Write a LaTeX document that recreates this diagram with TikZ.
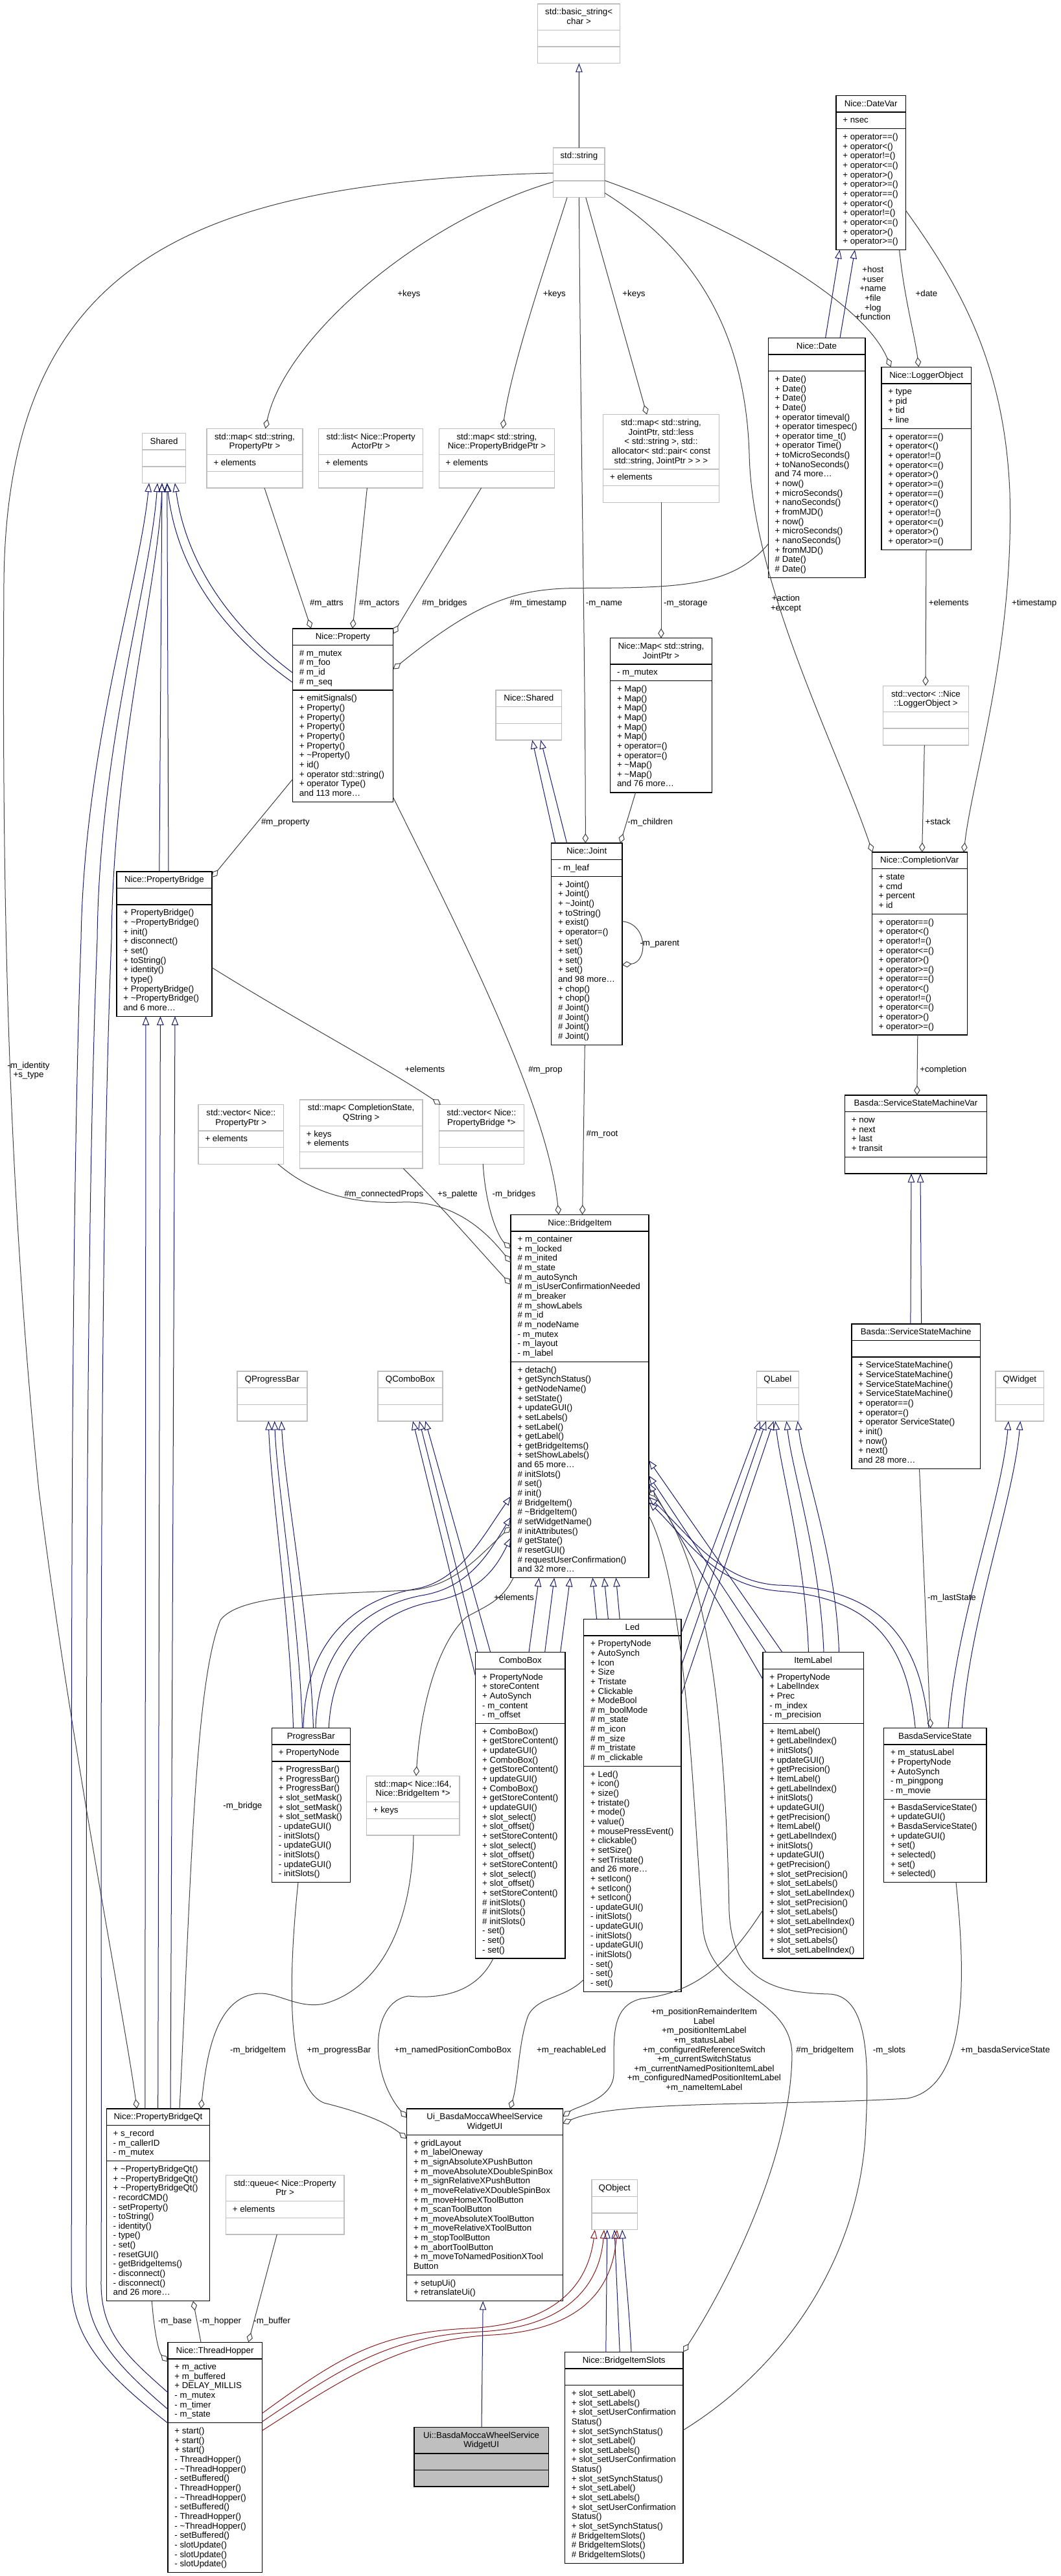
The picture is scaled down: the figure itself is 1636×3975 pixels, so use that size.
\documentclass[tikz,border=0pt]{standalone}
\usepackage{fontspec}
\setmainfont{Liberation Sans}
\usetikzlibrary{arrows.meta}
\definecolor{inhc}{HTML}{191970}
\definecolor{aggc}{HTML}{404040}
\definecolor{prvc}{HTML}{8B1A1A}
\definecolor{gbord}{HTML}{BFBFBF}
\definecolor{focusfill}{HTML}{BFBFBF}
\tikzset{
  boxb/.style={draw=black, line width=1.4pt, fill=white, outer sep=0pt, inner sep=0pt},
  boxb sep/.style={draw=black, line width=1.4pt},
  boxg/.style={draw=gbord, line width=1.4pt, fill=white, outer sep=0pt, inner sep=0pt},
  boxg sep/.style={draw=gbord, line width=1.4pt},
  boxf/.style={draw=black, line width=1.4pt, fill=focusfill, outer sep=0pt, inner sep=0pt},
  boxf sep/.style={draw=black, line width=1.4pt},
  inh/.style={draw=inhc, line width=1pt, -{Triangle[open, length=13.7pt, width=10.5pt]}},
  prv/.style={draw=prvc, line width=1pt, -{Triangle[open, length=13.7pt, width=10.5pt]}},
  agg/.style={draw=aggc, line width=1pt, -{Diamond[open, length=15pt, width=9.5pt]}},
  txt/.style={font=\fontsize{13.3}{14.65}\selectfont, inner sep=0pt, outer sep=0pt},
}
\newcommand\umlbox[8][boxb]{%
  \pgfmathsetmacro\hA{11+14.65*max(#6,1)}%
  \pgfmathsetmacro\hB{11+14.65*max(#7,1)}%
  \pgfmathsetmacro\hC{11+14.65*max(#8,1)}%
  \pgfmathsetmacro\hAB{\hA+\hB}%
  \pgfmathsetmacro\hT{\hA+\hB+\hC}%
  \node[#1, minimum width=#5, minimum height=\hT, anchor=north west] (#2) at (#3,#4) {};
  \draw[#1 sep] ([yshift=-\hA]#2.north west) -- ([yshift=-\hA]#2.north east);
  \draw[#1 sep] ([yshift=-\hAB]#2.north west) -- ([yshift=-\hAB]#2.north east);
  \expandafter\xdef\csname off@#2@a\endcsname{\hA}%
  \expandafter\xdef\csname off@#2@o\endcsname{\hAB}%
}
\newcommand\bhead[2]{%
  \foreach \tx [count=\ii] in {#2} {%
    \node[txt, anchor=base] (#1-h\ii) at ([yshift={-16.8-14.65*(\ii-1)}]#1.north) {\tx};}}
\newcommand\bsec[3]{%
  \edef\offs{\csname off@#1@#2\endcsname}%
  \foreach \tx [count=\ii] in {#3} {%
    \node[txt, anchor=base west] (#1-#2\ii) at ([xshift=10.5, yshift={-\offs-16.8-14.65*(\ii-1)}]#1.north west) {\tx};}}
\newcommand\elabel[4]{%
  \foreach \tx [count=\ii] in {#4} {%
    \node[txt, anchor=base] (#1-\ii) at (#2, {#3+4.8+14.65*(\ii-1)}) {\tx};}}
\begin{document}
\begin{tikzpicture}[x=1pt,y=-1pt]
\useasboundingbox (0,0) rectangle (1636,3975);
\fill[white] (0,0) rectangle (1636,3975);

% ---------------- boxes ----------------
\umlbox[boxg]{bstr}{829.6}{6}{127.1}{2}{0}{0}
\bhead{bstr}{std::basic\_string<,char >}
\umlbox[boxg]{sstr}{853.7}{227.8}{79.4}{1}{0}{0}
\bhead{sstr}{std::string}

\umlbox{datevar}{1289.8}{147.4}{107.7}{1}{1}{12}
\bhead{datevar}{Nice::DateVar}
\bsec{datevar}{a}{+ nsec}
\bsec{datevar}{o}{+ operator==(),+ operator<(),+ operator!=(),+ operator<=(),+ operator>(),+ operator>=(),+ operator==(),+ operator<(),+ operator!=(),+ operator<=(),+ operator>(),+ operator>=()}

\umlbox{date}{1185.2}{521.3}{149.6}{1}{0}{21}
\bhead{date}{Nice::Date}
\bsec{date}{o}{+ Date(),+ Date(),+ Date(),+ Date(),+ operator timeval(),+ operator timespec(),+ operator time\_t(),+ operator Time(),+ toMicroSeconds(),+ toNanoSeconds(),and 74 more\ldots,+ now(),+ microSeconds(),+ nanoSeconds(),+ fromMJD(),+ now(),+ microSeconds(),+ nanoSeconds(),+ fromMJD(),\# Date(),\# Date()}

\umlbox{logger}{1359.9}{566.2}{138.6}{1}{4}{12}
\bhead{logger}{Nice::LoggerObject}
\bsec{logger}{a}{+ type,+ pid,+ tid,+ line}
\bsec{logger}{o}{+ operator==(),+ operator<(),+ operator!=(),+ operator<=(),+ operator>(),+ operator>=(),+ operator==(),+ operator<(),+ operator!=(),+ operator<=(),+ operator>(),+ operator>=()}

\umlbox[boxg]{mapprop}{319}{661.3}{148}{2}{1}{0}
\bhead{mapprop}{{std::map< std::string,},PropertyPtr >}
\bsec{mapprop}{a}{+ elements}
\umlbox[boxg]{listactor}{491.6}{661.3}{161.1}{2}{1}{0}
\bhead{listactor}{std::list< Nice::Property,ActorPtr >}
\bsec{listactor}{a}{+ elements}
\umlbox[boxg]{mapbridge}{677.2}{661.3}{178.5}{2}{1}{0}
\bhead{mapbridge}{{std::map< std::string,},Nice::PropertyBridgePtr >}
\bsec{mapbridge}{a}{+ elements}
\umlbox[boxg]{mapjoint}{930.5}{639.7}{178.9}{5}{1}{0}
\bhead{mapjoint}{{std::map< std::string,},{JointPtr, std::less},{< std::string >, std::},allocator< std::pair< const,{std::string, JointPtr > > >}}
\bsec{mapjoint}{a}{+ elements}
\umlbox[boxg]{shared}{219.6}{668.5}{67}{1}{0}{0}
\bhead{shared}{Shared}

\umlbox{property}{451.3}{969.8}{155.3}{1}{4}{11}
\bhead{property}{Nice::Property}
\bsec{property}{a}{\# m\_mutex,\# m\_foo,\# m\_id,\# m\_seq}
\bsec{property}{o}{+ emitSignals(),+ Property(),+ Property(),+ Property(),+ Property(),+ Property(),+ \textasciitilde Property(),+ id(),+ operator std::string(),+ operator Type(),and 113 more\ldots}

\umlbox[boxg]{nshared}{765}{1065}{101.7}{1}{0}{0}
\bhead{nshared}{Nice::Shared}

\umlbox{map}{941.5}{984.7}{156.9}{2}{1}{11}
\bhead{map}{{Nice::Map< std::string,},JointPtr >}
\bsec{map}{a}{- m\_mutex}
\bsec{map}{o}{+ Map(),+ Map(),+ Map(),+ Map(),+ Map(),+ Map(),+ operator=(),+ operator=(),+ \textasciitilde Map(),+ \textasciitilde Map(),and 76 more\ldots}

\umlbox[boxg]{vlogger}{1362.5}{1058.2}{131.8}{2}{0}{0}
\bhead{vlogger}{std::vector< ::Nice,::LoggerObject >}

\umlbox{joint}{850.5}{1301}{109.3}{1}{1}{17}
\bhead{joint}{Nice::Joint}
\bsec{joint}{a}{- m\_leaf}
\bsec{joint}{o}{+ Joint(),+ Joint(),+ \textasciitilde Joint(),+ toString(),+ exist(),+ operator=(),+ set(),+ set(),+ set(),+ set(),and 98 more\ldots,+ chop(),+ chop(),\# Joint(),\# Joint(),\# Joint(),\# Joint()}

\umlbox{compl}{1345.2}{1315}{147}{1}{4}{12}
\bhead{compl}{Nice::CompletionVar}
\bsec{compl}{a}{+ state,+ cmd,+ percent,+ id}
\bsec{compl}{o}{+ operator==(),+ operator<(),+ operator!=(),+ operator<=(),+ operator>(),+ operator>=(),+ operator==(),+ operator<(),+ operator!=(),+ operator<=(),+ operator>(),+ operator>=()}

\umlbox{pbridge}{179.9}{1344.8}{147}{1}{0}{11}
\bhead{pbridge}{Nice::PropertyBridge}
\bsec{pbridge}{o}{+ PropertyBridge(),+ \textasciitilde PropertyBridge(),+ init(),+ disconnect(),+ set(),+ toString(),+ identity(),+ type(),+ PropertyBridge(),+ \textasciitilde PropertyBridge(),and 6 more\ldots}

\umlbox[boxg]{vprop}{306}{1704.6}{131.7}{2}{1}{0}
\bhead{vprop}{std::vector< Nice::,PropertyPtr >}
\bsec{vprop}{a}{+ elements}
\umlbox[boxg]{mapcs}{462.3}{1696.9}{189.8}{2}{2}{0}
\bhead{mapcs}{{std::map< CompletionState,},QString >}
\bsec{mapcs}{a}{+ keys,+ elements}
\umlbox[boxg]{vpb}{677.2}{1704.6}{131.3}{2}{0}{0}
\bhead{vpb}{std::vector< Nice::,PropertyBridge *>}

\umlbox{ssmvar}{1303.4}{1690}{219.1}{1}{4}{0}
\bhead{ssmvar}{Basda::ServiceStateMachineVar}
\bsec{ssmvar}{a}{+ now,+ next,+ last,+ transit}

\umlbox{bitem}{788.1}{1874.2}{213}{1}{13}{22}
\bhead{bitem}{Nice::BridgeItem}
\bsec{bitem}{a}{+ m\_container,+ m\_locked,\# m\_inited,\# m\_state,\# m\_autoSynch,\# m\_isUserConfirmationNeeded,\# m\_breaker,\# m\_showLabels,\# m\_id,\# m\_nodeName,- m\_mutex,- m\_layout,- m\_label}
\bsec{bitem}{o}{+ detach(),+ getSynchStatus(),+ getNodeName(),+ setState(),+ updateGUI(),+ setLabels(),+ setLabel(),+ getLabel(),+ getBridgeItems(),+ setShowLabels(),and 65 more\ldots,\# initSlots(),\# set(),\# init(),\# BridgeItem(),\# \textasciitilde BridgeItem(),\# setWidgetName(),\# initAttributes(),\# getState(),\# resetGUI(),\# requestUserConfirmation(),and 32 more\ldots}

\umlbox{ssm}{1313.9}{2042.8}{198.7}{1}{0}{11}
\bhead{ssm}{Basda::ServiceStateMachine}
\bsec{ssm}{o}{+ ServiceStateMachine(),+ ServiceStateMachine(),+ ServiceStateMachine(),+ ServiceStateMachine(),+ operator==(),+ operator=(),+ operator ServiceState(),+ init(),+ now(),+ next(),and 28 more\ldots}

\umlbox[boxg]{qpb}{366}{2115.9}{107.8}{1}{0}{0}
\bhead{qpb}{QProgressBar}
\umlbox[boxg]{qcb}{583.1}{2115.9}{99.9}{1}{0}{0}
\bhead{qcb}{QComboBox}
\umlbox[boxg]{qlabel}{1167.4}{2115.9}{64.9}{1}{0}{0}
\bhead{qlabel}{QLabel}
\umlbox[boxg]{qwidget}{1536.1}{2115.9}{74.3}{1}{0}{0}
\bhead{qwidget}{QWidget}

\umlbox{led}{900.7}{2498.3}{150.1}{1}{13}{23}
\bhead{led}{Led}
\bsec{led}{a}{+ PropertyNode,+ AutoSynch,+ Icon,+ Size,+ Tristate,+ Clickable,+ ModeBool,\# m\_boolMode,\# m\_state,\# m\_icon,\# m\_size,\# m\_tristate,\# m\_clickable}
\bsec{led}{o}{+ Led(),+ icon(),+ size(),+ tristate(),+ mode(),+ value(),+ mousePressEvent(),+ clickable(),+ setSize(),+ setTristate(),and 26 more\ldots,+ setIcon(),+ setIcon(),+ setIcon(),- updateGUI(),- initSlots(),- updateGUI(),- initSlots(),- updateGUI(),- initSlots(),- set(),- set(),- set()}

\umlbox{combo}{733.7}{2549.6}{138.3}{1}{5}{24}
\bhead{combo}{ComboBox}
\bsec{combo}{a}{+ PropertyNode,+ storeContent,+ AutoSynch,- m\_content,- m\_offset}
\bsec{combo}{o}{+ ComboBox(),+ getStoreContent(),+ updateGUI(),+ ComboBox(),+ getStoreContent(),+ updateGUI(),+ ComboBox(),+ getStoreContent(),+ updateGUI(),+ slot\_select(),+ slot\_offset(),+ setStoreContent(),+ slot\_select(),+ slot\_offset(),+ setStoreContent(),+ slot\_select(),+ slot\_offset(),+ setStoreContent(),\# initSlots(),\# initSlots(),\# initSlots(),- set(),- set(),- set()}

\umlbox{ilabel}{1176.8}{2549.6}{155.4}{1}{5}{24}
\bhead{ilabel}{ItemLabel}
\bsec{ilabel}{a}{+ PropertyNode,+ LabelIndex,+ Prec,- m\_index,- m\_precision}
\bsec{ilabel}{o}{+ ItemLabel(),+ getLabelIndex(),+ initSlots(),+ updateGUI(),+ getPrecision(),+ ItemLabel(),+ getLabelIndex(),+ initSlots(),+ updateGUI(),+ getPrecision(),+ ItemLabel(),+ getLabelIndex(),+ initSlots(),+ updateGUI(),+ getPrecision(),+ slot\_setPrecision(),+ slot\_setLabels(),+ slot\_setLabelIndex(),+ slot\_setPrecision(),+ slot\_setLabels(),+ slot\_setLabelIndex(),+ slot\_setPrecision(),+ slot\_setLabels(),+ slot\_setLabelIndex()}

\umlbox{pbar}{419.4}{2666.5}{120.8}{1}{1}{12}
\bhead{pbar}{ProgressBar}
\bsec{pbar}{a}{+ PropertyNode}
\bsec{pbar}{o}{+ ProgressBar(),+ ProgressBar(),+ ProgressBar(),+ slot\_setMask(),+ slot\_setMask(),+ slot\_setMask(),- updateGUI(),- initSlots(),- updateGUI(),- initSlots(),- updateGUI(),- initSlots()}

\umlbox{bss}{1363.5}{2666.5}{158.5}{1}{5}{8}
\bhead{bss}{BasdaServiceState}
\bsec{bss}{a}{+ m\_statusLabel,+ PropertyNode,+ AutoSynch,- m\_pingpong,- m\_movie}
\bsec{bss}{o}{+ BasdaServiceState(),+ updateGUI(),+ BasdaServiceState(),+ updateGUI(),+ set(),+ selected(),+ set(),+ selected()}

\umlbox[boxg]{mapi64}{565.3}{2740.4}{143.8}{2}{1}{0}
\bhead{mapi64}{{std::map< Nice::I64,},Nice::BridgeItem *>}
\bsec{mapi64}{a}{+ keys}

\umlbox{pbqt}{164.2}{3254}{159.5}{1}{3}{14}
\bhead{pbqt}{Nice::PropertyBridgeQt}
\bsec{pbqt}{a}{+ s\_record,- m\_callerID,- m\_mutex}
\bsec{pbqt}{o}{+ \textasciitilde PropertyBridgeQt(),+ \textasciitilde PropertyBridgeQt(),+ \textasciitilde PropertyBridgeQt(),- recordCMD(),- setProperty(),- toString(),- identity(),- type(),- set(),- resetGUI(),- getBridgeItems(),- disconnect(),- disconnect(),and 26 more\ldots}

\umlbox{uiw}{627.5}{3254}{240.8}{2}{14}{2}
\bhead{uiw}{Ui\_BasdaMoccaWheelService,WidgetUI}
\bsec{uiw}{a}{+ gridLayout,+ m\_labelOneway,+ m\_signAbsoluteXPushButton,+ m\_moveAbsoluteXDoubleSpinBox,+ m\_signRelativeXPushButton,+ m\_moveRelativeXDoubleSpinBox,+ m\_moveHomeXToolButton,+ m\_scanToolButton,+ m\_moveAbsoluteXToolButton,+ m\_moveRelativeXToolButton,+ m\_stopToolButton,+ m\_abortToolButton,+ m\_moveToNamedPositionXTool,Button}
\bsec{uiw}{o}{+ setupUi(),+ retranslateUi()}

\umlbox[boxg]{queue}{348.3}{3356.4}{182.5}{2}{1}{0}
\bhead{queue}{std::queue< Nice::Property,Ptr >}
\bsec{queue}{a}{+ elements}

\umlbox[boxg]{qobject}{912.8}{3363.7}{70.6}{1}{0}{0}
\bhead{qobject}{QObject}

\umlbox{thop}{258.9}{3614.2}{145.4}{1}{6}{15}
\bhead{thop}{Nice::ThreadHopper}
\bsec{thop}{a}{+ m\_active,+ m\_buffered,+ DELAY\_MILLIS,- m\_mutex,- m\_timer,- m\_state}
\bsec{thop}{o}{+ start(),+ start(),+ start(),- ThreadHopper(),- \textasciitilde ThreadHopper(),- setBuffered(),- ThreadHopper(),- \textasciitilde ThreadHopper(),- setBuffered(),- ThreadHopper(),- \textasciitilde ThreadHopper(),- setBuffered(),- slotUpdate(),- slotUpdate(),- slotUpdate()}

\umlbox{bislots}{871.4}{3629.3}{182.6}{1}{0}{18}
\bhead{bislots}{Nice::BridgeItemSlots}
\bsec{bislots}{o}{+ slot\_setLabel(),+ slot\_setLabels(),+ slot\_setUserConfirmation,Status(),+ slot\_setSynchStatus(),+ slot\_setLabel(),+ slot\_setLabels(),+ slot\_setUserConfirmation,Status(),+ slot\_setSynchStatus(),+ slot\_setLabel(),+ slot\_setLabels(),+ slot\_setUserConfirmation,Status(),+ slot\_setSynchStatus(),\# BridgeItemSlots(),\# BridgeItemSlots(),\# BridgeItemSlots()}

\umlbox[boxf]{uins}{639}{3745.5}{207.3}{2}{0}{0}
\bhead{uins}{Ui::BasdaMoccaWheelService,WidgetUI}

% ---------------- connectors ----------------
\draw[inh] ([shift={(39.7,0)}]sstr.north west) -- ([shift={(63.8,91.6)}]bstr.north west);
\draw[inh] ([shift={(88.4,0)}]date.north west) -- ([shift={(5.8,238.1)}]datevar.north west);
\draw[inh] ([shift={(110.8,0)}]date.north west) -- ([shift={(29.2,238.1)}]datevar.north west);
\draw[agg] ([shift={(97.8,238.1)}]datevar.north west) .. controls (1395,460) and (1412,520) .. ([shift={(57.5,0)}]logger.north west);
\draw[agg] ([shift={(79.4,50.8)}]sstr.north west) .. controls (1120,345) and (1330,460) .. ([shift={(14.6,0)}]logger.north west);
\draw[agg] ([shift={(79.4,70)}]sstr.north west) .. controls (1080,390) and (1150,520) .. (1156,700) .. controls (1160,900) and (1290,1150) .. ([shift={(1,0)}]compl.north west);
\draw[agg] ([shift={(107.7,177.4)}]datevar.north west) .. controls (1480,440) and (1550,560) .. (1558,760) .. controls (1565,1000) and (1500,1200) .. ([shift={(141.8,0)}]compl.north west);
\draw[agg] ([shift={(50.1,76.95)}]sstr.north west) -- ([shift={(67.5,0)}]mapjoint.north west);
\draw[agg] ([shift={(39.7,76.95)}]sstr.north west) .. controls (896,700) and (903,1000) .. ([shift={(52.8,0)}]joint.north west);
\draw[agg] ([shift={(21.3,76.95)}]sstr.north west) .. controls (845,400) and (790,560) .. ([shift={(98.4,0)}]mapbridge.north west);
\draw[agg] ([shift={(0,52.9)}]sstr.north west) .. controls (650,340) and (440,520) .. ([shift={(90.5,0)}]mapprop.north west);
\draw[agg] ([shift={(0,39.2)}]sstr.north west) .. controls (300,280) and (10,400) .. (6,900) .. controls (2,1500) and (20,1900) .. (60,2300) .. controls (110,2700) and (190,3100) .. ([shift={(47.1,0)}]pbqt.north west);
\draw[agg] ([shift={(89,91.6)}]mapprop.north west) -- ([shift={(28.7,0)}]property.north west);
\draw[agg] ([shift={(74.8,91.6)}]listactor.north west) -- ([shift={(92.7,0)}]property.north west);
\draw[agg] ([shift={(65.4,91.6)}]mapbridge.north west) -- ([shift={(155.3,8.2)}]property.north west);
\draw[agg] ([shift={(0,318.2)}]date.north west) .. controls (1130,905) and (1050,907) .. (900,907.5) .. controls (800,907) and (740,925) .. ([shift={(155.3,62.8)}]property.north west);
\draw[inh] ([shift={(0,68.2)}]property.north west) .. controls (380,985) and (290,890) .. ([shift={(50.3,76.95)}]shared.north west);
\draw[inh] ([shift={(0,83.2)}]property.north west) .. controls (370,995) and (275,900) .. ([shift={(38.2,76.95)}]shared.north west);
\draw[inh] ([shift={(0,124.8)}]thop.north west) .. controls (165,3665) and (110,3610) .. (110,3520) .. controls (112,3000) and (105,2000) .. (125,1450) .. controls (130,1150) and (215,900) .. ([shift={(10.4,76.95)}]shared.north west);
\draw[inh] ([shift={(0,103.4)}]thop.north west) .. controls (180,3650) and (133,3600) .. (133,3520) .. controls (135,3000) and (128,2000) .. (150,1450) .. controls (153,1150) and (232,900) .. ([shift={(23.4,76.95)}]shared.north west);
\draw[inh] ([shift={(0,77.5)}]thop.north west) .. controls (195,3635) and (155,3600) .. (156,3520) .. controls (158,3000) and (150,2000) .. (172,1450) .. controls (175,1150) and (245,900) .. ([shift={(30.4,76.95)}]shared.north west);
\draw[inh] ([shift={(65.9,0)}]pbridge.north west) -- ([shift={(30.4,76.95)}]shared.north west);
\draw[inh] ([shift={(80.1,0)}]pbridge.north west) -- ([shift={(38.2,76.95)}]shared.north west);
\draw[inh] ([shift={(59.6,0)}]pbqt.north west) -- ([shift={(45.1,223.45)}]pbridge.north west);
\draw[inh] ([shift={(79.5,0)}]pbqt.north west) -- ([shift={(67.5,223.45)}]pbridge.north west);
\draw[inh] ([shift={(98.8,0)}]pbqt.north west) -- ([shift={(90.1,223.45)}]pbridge.north west);
\draw[agg] ([shift={(0,232.9)}]property.north west) -- ([shift={(147,9.2)}]pbridge.north west);
\draw[agg] ([shift={(147,148.2)}]pbridge.north west) .. controls (450,1570) and (600,1650) .. ([shift={(2.8,0)}]vpb.north west);
\draw[agg] ([shift={(155.3,260.6)}]property.north west) .. controls (700,1420) and (845,1700) .. ([shift={(73.9,0)}]bitem.north west);
\draw[agg] ([shift={(51.8,311.35)}]joint.north west) -- ([shift={(110.5,0)}]bitem.north west);
\draw[agg] ([shift={(109.3,120.7)}]joint.north west) .. controls (1000,1425) and (1000,1485) .. ([shift={(109.3,187.8)}]joint.north west);
\draw[agg] ([shift={(89.5,135.55)}]mapjoint.north west) -- ([shift={(78.5,0)}]map.north west);
\draw[agg] ([shift={(39.2,238.1)}]map.north west) -- ([shift={(106.5,0)}]joint.north west);
\draw[inh] ([shift={(6.3,0)}]joint.north west) -- ([shift={(56.2,76.95)}]nshared.north west);
\draw[inh] ([shift={(24.1,0)}]joint.north west) -- ([shift={(69.3,76.95)}]nshared.north west);
\draw[agg] ([shift={(69.1,282.05)}]logger.north west) -- ([shift={(65.5,0)}]vlogger.north west);
\draw[agg] ([shift={(63.8,91.6)}]vlogger.north west) -- ([shift={(77.4,0)}]compl.north west);
\draw[agg] ([shift={(70.6,282.05)}]compl.north west) -- ([shift={(111.4,0)}]ssmvar.north west);
\draw[inh] ([shift={(91,0)}]ssm.north west) -- ([shift={(102.6,120.9)}]ssmvar.north west);
\draw[inh] ([shift={(107.7,0)}]ssm.north west) -- ([shift={(116.6,120.9)}]ssmvar.north west);
\draw[agg] ([shift={(104.6,223.45)}]ssm.north west) -- ([shift={(72.2,0)}]bss.north west);
\draw[inh] ([shift={(99.5,0)}]bss.north west) .. controls (1475,2500) and (1545,2320) .. ([shift={(19.9,76.95)}]qwidget.north west);
\draw[inh] ([shift={(120.9,0)}]bss.north west) .. controls (1495,2500) and (1563,2320) .. ([shift={(38.2,76.95)}]qwidget.north west);
\draw[inh] ([shift={(48.7,0)}]bss.north west) .. controls (1400,2540) and (1350,2465) .. (1200,2455) .. controls (1100,2445) and (1060,2375) .. ([shift={(213,443.8)}]bitem.north west);
\draw[inh] ([shift={(69.5,0)}]bss.north west) .. controls (1420,2530) and (1360,2450) .. (1200,2446) .. controls (1110,2440) and (1065,2370) .. ([shift={(213,435.8)}]bitem.north west);
\draw[inh] ([shift={(30.2,0)}]ilabel.north west) -- ([shift={(213,379.3)}]bitem.north west);
\draw[inh] ([shift={(5.2,0)}]ilabel.north west) -- ([shift={(213,402.8)}]bitem.north west);
\draw[inh] ([shift={(0,41.4)}]ilabel.north west) -- ([shift={(213,414.8)}]bitem.north west);
\draw[inh] ([shift={(70.7,0)}]ilabel.north west) .. controls (1242,2400) and (1205,2270) .. ([shift={(28.8,76.95)}]qlabel.north west);
\draw[inh] ([shift={(94.2,0)}]ilabel.north west) .. controls (1265,2400) and (1222,2270) .. ([shift={(46.1,76.95)}]qlabel.north west);
\draw[inh] ([shift={(117.7,0)}]ilabel.north west) .. controls (1290,2400) and (1240,2270) .. ([shift={(63.3,76.95)}]qlabel.north west);
\draw[inh] ([shift={(150.1,22.2)}]led.north west) -- ([shift={(5.3,76.95)}]qlabel.north west);
\draw[inh] ([shift={(150.1,73.5)}]led.north west) -- ([shift={(14.6,76.95)}]qlabel.north west);
\draw[inh] ([shift={(150.1,118.4)}]led.north west) -- ([shift={(26.2,76.95)}]qlabel.north west);
\draw[inh] ([shift={(19.9,0)}]led.north west) -- ([shift={(126.2,560.4)}]bitem.north west);
\draw[inh] ([shift={(37.7,0)}]led.north west) -- ([shift={(144,560.4)}]bitem.north west);
\draw[inh] ([shift={(55.5,0)}]led.north west) -- ([shift={(162.3,560.4)}]bitem.north west);
\draw[inh] ([shift={(82.3,0)}]combo.north west) -- ([shift={(43.6,560.4)}]bitem.north west);
\draw[inh] ([shift={(106.9,0)}]combo.north west) -- ([shift={(67.1,560.4)}]bitem.north west);
\draw[inh] ([shift={(130.9,0)}]combo.north west) -- ([shift={(91.7,560.4)}]bitem.north west);
\draw[inh] ([shift={(0,37.4)}]combo.north west) -- ([shift={(53.9,76.95)}]qcb.north west);
\draw[inh] ([shift={(3.3,0)}]combo.north west) -- ([shift={(63.9,76.95)}]qcb.north west);
\draw[inh] ([shift={(23,0)}]combo.north west) -- ([shift={(73.2,76.95)}]qcb.north west);
\draw[inh] ([shift={(33.1,0)}]pbar.north west) .. controls (448,2500) and (418,2300) .. ([shift={(48.2,76.95)}]qpb.north west);
\draw[inh] ([shift={(47.1,0)}]pbar.north west) .. controls (462,2500) and (428,2300) .. ([shift={(57.6,76.95)}]qpb.north west);
\draw[inh] ([shift={(64.1,0)}]pbar.north west) .. controls (478,2500) and (440,2300) .. ([shift={(68.1,76.95)}]qpb.north west);
\draw[inh] ([shift={(48.6,0)}]pbar.north west) .. controls (470,2540) and (540,2470) .. (640,2452) .. controls (710,2440) and (745,2370) .. ([shift={(0,434.8)}]bitem.north west);
\draw[inh] ([shift={(67.6,0)}]pbar.north west) .. controls (490,2550) and (555,2480) .. (650,2462) .. controls (725,2450) and (755,2395) .. ([shift={(0,466.8)}]bitem.north west);
\draw[inh] ([shift={(87.9,0)}]pbar.north west) .. controls (512,2560) and (575,2490) .. (665,2472) .. controls (740,2458) and (765,2420) .. ([shift={(0,498.8)}]bitem.north west);
\draw[agg] ([shift={(112.8,0)}]pbqt.north west) .. controls (295,2900) and (300,2600) .. (340,2500) .. controls (370,2460) and (500,2460) .. (630,2454) .. controls (700,2450) and (740,2400) .. ([shift={(0,481.8)}]bitem.north west);
\draw[agg] ([shift={(3.9,560.4)}]bitem.north west) .. controls (775,2470) and (750,2478) .. (720,2495) .. controls (680,2530) and (650,2620) .. ([shift={(76.7,0)}]mapi64.north west);
\draw[agg] ([shift={(72.7,91.6)}]mapi64.north west) .. controls (636,2980) and (580,3070) .. (500,3092) .. controls (460,3100) and (430,3075) .. (400,3076) .. controls (330,3080) and (318,3180) .. ([shift={(145.8,0)}]pbqt.north west);
\draw[agg] ([shift={(40.6,238.1)}]pbar.north west) .. controls (445,3050) and (440,3220) .. (500,3245) .. controls (540,3255) and (590,3270) .. ([shift={(0,46)}]uiw.north west);
\draw[agg] ([shift={(27.3,472.5)}]combo.north west) .. controls (735,3075) and (680,3085) .. (630,3080) .. controls (570,3090) and (570,3200) .. ([shift={(0,14)}]uiw.north west);
\draw[agg] ([shift={(0,556.2)}]led.north west) .. controls (870,3085) and (830,3080) .. (815,3110) .. controls (800,3150) and (800,3210) .. ([shift={(159.5,0)}]uiw.north west);
\draw[agg] ([shift={(0,398.1)}]ilabel.north west) .. controls (1130,3020) and (1080,3075) .. (990,3084) .. controls (940,3095) and (948,3150) .. (947,3200) .. controls (946,3240) and (890,3250) .. ([shift={(240.8,12)}]uiw.north west);
\draw[agg] ([shift={(111.5,238.1)}]bss.north west) .. controls (1490,3050) and (1495,3220) .. (1400,3238) .. controls (1200,3250) and (950,3240) .. ([shift={(240.8,22.7)}]uiw.north west);
\draw[agg] ([shift={(213,464.8)}]bitem.north west) .. controls (1060,2450) and (1070,2800) .. (1085,2980) .. controls (1100,3080) and (1220,3080) .. (1222,3170) .. controls (1220,3350) and (1100,3560) .. ([shift={(182.6,0)}]bislots.north west);
\draw[agg] ([shift={(182.6,120.7)}]bislots.north west) .. controls (1200,3660) and (1320,3500) .. (1335,3300) .. controls (1340,3200) and (1345,3080) .. (1280,3077) .. controls (1200,3075) and (1130,3060) .. (1125,2950) .. controls (1120,2700) and (1100,2420) .. ([shift={(213,423.8)}]bitem.north west);
\draw[agg] ([shift={(70.1,296.7)}]pbqt.north west) .. controls (238,3600) and (245,3630) .. ([shift={(0,30.2)}]thop.north west);
\draw[agg] ([shift={(51.1,0)}]thop.north west) -- ([shift={(133.8,296.7)}]pbqt.north west);
\draw[agg] ([shift={(79,91.6)}]queue.north west) -- ([shift={(124.4,0)}]thop.north west);
\draw[agg] ([shift={(122.8,91.6)}]vprop.north west) .. controls (480,1840) and (540,1858) .. (620,1855) .. controls (700,1852) and (750,1900) .. ([shift={(0,73.8)}]bitem.north west);
\draw[agg] ([shift={(160,106.25)}]mapcs.north west) .. controls (680,1860) and (740,1930) .. ([shift={(0,107.8)}]bitem.north west);
\draw[agg] ([shift={(68,91.6)}]vpb.north west) .. controls (750,1870) and (770,1910) .. ([shift={(0,52.6)}]bitem.north west);
\draw[inh] ([shift={(104,0)}]uins.north west) -- ([shift={(117.7,296.7)}]uiw.north west);
\draw[inh] ([shift={(63.4,0)}]bislots.north west) -- ([shift={(24,76.95)}]qobject.north west);
\draw[inh] ([shift={(84.8,0)}]bislots.north west) -- ([shift={(35.2,76.95)}]qobject.north west);
\draw[inh] ([shift={(102.6,0)}]bislots.north west) .. controls (970,3550) and (962,3480) .. ([shift={(47.2,76.95)}]qobject.north west);
\draw[prv] ([shift={(145.4,109.8)}]thop.north west) .. controls (520,3640) and (580,3600) .. (720,3593) .. controls (840,3588) and (905,3540) .. ([shift={(5.1,76.95)}]qobject.north west);
\draw[prv] ([shift={(145.4,122.8)}]thop.north west) .. controls (525,3655) and (600,3605) .. (740,3598) .. controls (870,3592) and (925,3530) .. ([shift={(19.2,76.95)}]qobject.north west);
\draw[prv] ([shift={(145.4,136.5)}]thop.north west) .. controls (530,3670) and (620,3610) .. (760,3603) .. controls (900,3595) and (945,3530) .. ([shift={(39.2,76.95)}]qobject.north west);

% ---------------- labels ----------------
\elabel{lkeysa}{631}{453}{+keys}
\elabel{lkeysb}{855.3}{453}{+keys}
\elabel{lkeysc}{978}{453}{+keys}
\elabel{lhost}{1346.8}{415.8}{+host,+user,+name,+file,+log,+function}
\elabel{ldate}{1429.5}{453}{+date}
\elabel{lattrs}{503.9}{930}{\#m\_attrs}
\elabel{lactors}{585.2}{930}{\#m\_actors}
\elabel{lbridges}{685.9}{930}{\#m\_bridges}
\elabel{ltstamp}{830.3}{930}{\#m\_timestamp}
\elabel{lname}{932}{930}{-m\_name}
\elabel{lstorage}{1057.8}{930}{-m\_storage}
\elabel{laction}{1212.5}{922.8}{+action,+except}
\elabel{lelema}{1463.6}{930}{+elements}
\elabel{ltstampb}{1595.6}{930}{+timestamp}
\elabel{lchildren}{1003.2}{1267.6}{-m\_children}
\elabel{lstack}{1447}{1267.6}{+stack}
\elabel{lproperty}{440.4}{1267.6}{\#m\_property}
\elabel{lparent}{1017.8}{1454.6}{-m\_parent}
\elabel{lident}{44}{1643.5}{-m\_identity,+s\_type}
\elabel{lelemb}{655.5}{1649.9}{+elements}
\elabel{lprop}{841.5}{1649.9}{\#m\_prop}
\elabel{lcompl}{1455.3}{1649.9}{+completion}
\elabel{lroot}{929}{1748.6}{\#m\_root}
\elabel{lconn}{592.3}{1841.3}{\#m\_connectedProps}
\elabel{lpal}{706}{1841.3}{+s\_palette}
\elabel{lmbr}{793}{1841.3}{-m\_bridges}
\elabel{lelemc}{793}{2465}{+elements}
\elabel{llast}{1468.5}{2465}{-m\_lastState}
\elabel{lbridge}{374.4}{2785.3}{-m\_bridge}
\elabel{lbitem}{398}{3162.6}{-m\_bridgeItem}
\elabel{lpbar}{523}{3162.6}{+m\_progressBar}
\elabel{lnpcb}{698.7}{3162.6}{+m\_namedPositionComboBox}
\elabel{lrled}{881.6}{3162.6}{+m\_reachableLed}
\elabel{litems}{1086.4}{3103.6}{+m\_positionRemainderItem,Label,+m\_positionItemLabel,+m\_statusLabel,+m\_configuredReferenceSwitch,+m\_currentSwitchStatus,+m\_currentNamedPositionItemLabel,+m\_configuredNamedPositionItemLabel,+m\_nameItemLabel}
\elabel{lbitemb}{1272.8}{3162.6}{\#m\_bridgeItem}
\elabel{lslots}{1372}{3162.6}{-m\_slots}
\elabel{lbss}{1551}{3162.6}{+m\_basdaServiceState}
\elabel{lbase}{269.9}{3580.7}{-m\_base}
\elabel{lhopper}{340}{3580.7}{-m\_hopper}
\elabel{lbuffer}{419.7}{3580.7}{-m\_buffer}
\end{tikzpicture}
\end{document}
